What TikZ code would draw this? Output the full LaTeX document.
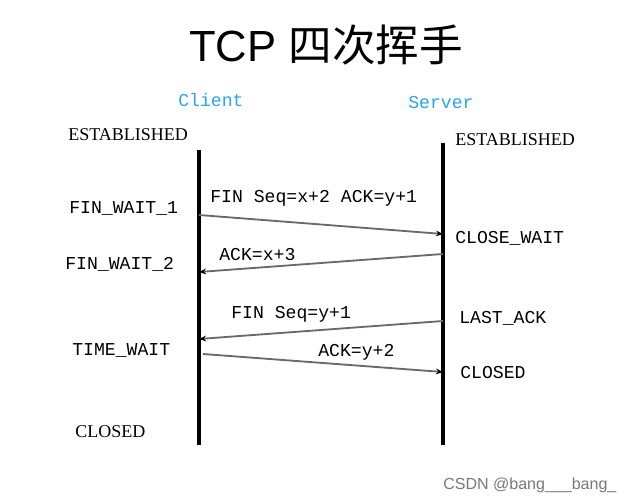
\documentclass[tikz,border=0pt]{standalone}
\usepackage{fontspec}
\setmainfont{Liberation Serif}
\newfontfamily\monofont{Liberation Mono}
\newfontfamily\titlefont{Liberation Sans}
\newfontfamily\cjkfont{Noto Sans CJK SC}
\usetikzlibrary{arrows.meta, positioning}
\definecolor{skyblue}{RGB}{40,165,240}
\definecolor{msggray}{RGB}{105,105,105}
\definecolor{markgray}{RGB}{120,120,120}

\begin{document}
\begin{tikzpicture}[x=0.025cm, y=-0.025cm,
  state/.style={font=\fontsize{12.9}{14}\monofont, anchor=west, inner sep=0pt},
  rstate/.style={font=\fontsize{12.8}{14}\selectfont, anchor=west, inner sep=0pt},
  party/.style={font=\fontsize{12.9}{14}\monofont, text=skyblue, anchor=west, inner sep=0pt},
  msglabel/.style={font=\fontsize{12.9}{14}\monofont, anchor=west, inner sep=0pt},
  lifeline/.style={line width=2.2pt},
  msg/.style={msggray, line width=1.3pt, -{Stealth[length=5pt,width=4pt,black]}}]
  \useasboundingbox (0,0) rectangle (635,504);

  % Title
  \node (title) at (326,45) {\fontsize{31}{36}\titlefont TCP \cjkfont 四次挥手};

  % Hosts
  \node[party] (client) at (178,100) {Client};
  \node[party] (server) at (408,103) {Server};

  % Life lines
  \coordinate (ctop) at (199,150);
  \coordinate (cbot) at (199,445);
  \coordinate (stop) at (443,143);
  \coordinate (sbot) at (443,445);
  \draw[lifeline] (ctop) -- (cbot);
  \draw[lifeline] (stop) -- (sbot);

  % Client states
  \node[rstate] (cest) at (68,135) {ESTABLISHED};
  \node[state] (fw1) at (69,208) {FIN\_WAIT\_1};
  \node[state] (fw2) at (65,264) {FIN\_WAIT\_2};
  \node[state] (tw) at (72,350) {TIME\_WAIT};
  \node[rstate] (cclosed) at (75,432) {CLOSED};

  % Server states
  \node[rstate] (sest) at (455,140) {ESTABLISHED};
  \node[state] (cw) at (455,238) {CLOSE\_WAIT};
  \node[state] (la) at (459,318) {LAST\_ACK};
  \node[state] (sclosed) at (460,373) {CLOSED};

  % Messages
  \coordinate (c1) at (199,215);
  \coordinate (s1) at (443,234);
  \coordinate (s2) at (443,254);
  \coordinate (c2) at (199,272);
  \coordinate (s3) at (443,321);
  \coordinate (c3) at (199,339);
  \coordinate (c4) at (203,354);
  \coordinate (s4) at (443,372);
  \draw[msg] (c1) -- (s1);
  \draw[msg] (s2) -- (c2);
  \draw[msg] (s3) -- (c3);
  \draw[msg] (c4) -- (s4);
  \node[msglabel] (m1) at (210,198) {FIN Seq=x+2 ACK=y+1};
  \node[msglabel] (m2) at (219,255) {ACK=x+3};
  \node[msglabel] (m3) at (231,314) {FIN Seq=y+1};
  \node[msglabel] (m4) at (318,352) {ACK=y+2};

  % Watermark
  \node[anchor=west, inner sep=0pt, text=markgray,
        font=\fontsize{11.4}{13}\titlefont] (mark) at (443,485) {CSDN @bang\_\_\_bang\_};
\end{tikzpicture}
\end{document}
